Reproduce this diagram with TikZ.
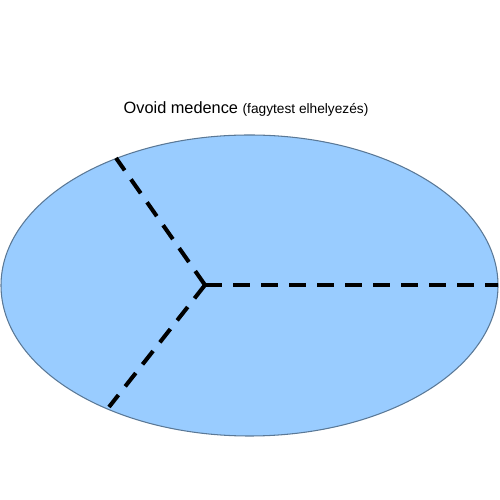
\documentclass[tikz,border=0pt]{standalone}
\usepackage{fontspec}
\setmainfont{Liberation Sans}
\usetikzlibrary{positioning}
\definecolor{poolblue}{HTML}{99CCFF}
\definecolor{poolline}{HTML}{5A7896}

\begin{document}
\begin{tikzpicture}[
    pool/.style={draw=poolline, line width=0.6pt, fill=poolblue},
    splitline/.style={line width=2.3pt, dash pattern=on 0.34cm off 0.22cm},
    title/.style={font=\fontsize{9.3}{11}\selectfont, inner sep=0pt},
  ]
  \useasboundingbox (0,0) rectangle (10,10);

  % -- Medence --
  \coordinate (mid) at (4.99,4.29);
  \draw[pool] (mid) ellipse [x radius=4.97cm, y radius=3.01cm];

  % -- Title --
  \node[title] (cim) at (4.92,7.81)
    {Ovoid medence {\fontsize{7.8}{9}\selectfont (fagytest elhelyezés)}};

  % -- Split points --
  \coordinate (hub) at (4.1,4.3);
  \coordinate (topend) at (2.32,6.84);
  \coordinate (botend) at (2.18,1.86);
  \coordinate (rightend) at (9.96,4.3);

  % -- Dashed lines --
  \draw[splitline] (hub) -- (topend);
  \draw[splitline] (hub) -- (botend);
  \draw[splitline] (hub) -- (rightend);
\end{tikzpicture}
\end{document}
